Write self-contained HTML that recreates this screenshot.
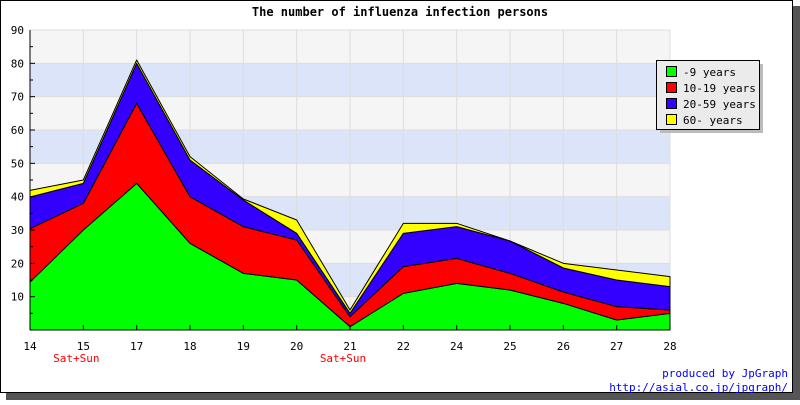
<!DOCTYPE html>
<html><head><meta charset="utf-8"><style>
body{margin:0;background:#fff}
svg text{font-family:"DejaVu Sans Mono","Liberation Mono",monospace}
</style></head><body>
<svg id="c" width="800" height="400" xmlns="http://www.w3.org/2000/svg">
<rect x="6" y="6" width="794" height="394" fill="#555"/>
<rect x="0.5" y="0.5" width="792" height="392" fill="#fff" stroke="#000"/>
<text x="400" y="16" text-anchor="middle" font-size="12" font-weight="bold">The number of influenza infection persons</text>
<g id="bands"></g><g id="grid"></g><g id="areas"></g><g id="axes"></g>
<g>
<rect x="660" y="64" width="103" height="69" fill="#bbb"/>
<rect x="656.5" y="60.5" width="103" height="69" fill="#ebebeb" stroke="#000"/>
<g id="legend"></g>
</g>
<text x="788" y="377" text-anchor="end" font-size="11" fill="#00f">produced by JpGraph</text>
<text x="788" y="391" text-anchor="end" font-size="11" fill="#00f">http://asial.co.jp/jpgraph/</text>
</svg>
<script>
const categories=["14","15","17","18","19","20","21","22","24","25","26","27","28"];
const sublabels=["","Sat+Sun","","","","","Sat+Sun","","","","","",""];
const seriesNames=["-9 years","10-19 years","20-59 years","60- years"];
const kids=[14.4,30,44,26,17,15,1,11,14,12,8,3,5];
const teens=[16,8,24,14,14,12,3,8,7.5,5,3.4,4,1];
const adults=[9.5,6,12,11,8,2,1,10,9.5,9.7,7.2,8,7];
const seniors=[2,1,1,1,0.3,4,1,3,1,0,1.4,3,3];
const yTicks=[10,20,30,40,50,60,70,80,90];
const colors=["#00ff00","#ff0000","#3300ff","#ffff00"];
const X0=30,X1=670,Y0=330,Y1=30,YMAX=90;
const xs=i=>X0+i*(X1-X0)/(categories.length-1);
const ys=v=>Y0-v*(Y0-Y1)/YMAX;
const NS="http://www.w3.org/2000/svg";
function mk(t,a,p){const e=document.createElementNS(NS,t);for(const k in a)e.setAttribute(k,a[k]);p.appendChild(e);return e;}
const bands=document.getElementById('bands');
for(let v=0;v<YMAX;v+=10){
 const r=mk('rect',{x:X0,y:ys(v+10),width:X1-X0,height:ys(v)-ys(v+10),fill:(v/10)%2==1?'#dce4fa':'#f5f5f5'},bands);
 
 
}
const grid=document.getElementById('grid');
yTicks.forEach(v=>{const l=mk('line',{x1:X0,x2:X1,y1:ys(v),y2:ys(v),stroke:'#ddd'},grid);
 
 });
categories.forEach((c,i)=>{const l=mk('line',{x1:xs(i),x2:xs(i),y1:Y1,y2:Y0,stroke:'#ddd'},grid);
 
 });
const series=[kids,teens,adults,seniors];
const areas=document.getElementById('areas');
let base=categories.map(()=>0);
const tops=[];
series.forEach(s=>{const t=base.map((b,i)=>b+s[i]);tops.push({b:base,t});base=t;});
tops.forEach((o,k)=>{
 let d=o.t.map((v,i)=>(i?'L':'M')+xs(i)+' '+ys(v)).join(' ');
 for(let i=o.b.length-1;i>=0;i--)d+=' L'+xs(i)+' '+ys(o.b[i]);
 const p=mk('path',{d:d+'Z',fill:colors[k],stroke:'#000','stroke-width':1,'stroke-linejoin':'round'},areas);
 
 
});
const ax=document.getElementById('axes');
mk('line',{x1:X0,x2:X0,y1:Y1,y2:Y0,stroke:'#000'},ax);
mk('line',{x1:X0,x2:X1,y1:Y0,y2:Y0,stroke:'#000'},ax);
for(let v=5;v<YMAX;v+=5){mk('line',{x1:X0,x2:X0+(v%10?3:5),y1:ys(v),y2:ys(v),stroke:'#000'},ax);}
yTicks.forEach(v=>{const t=mk('text',{x:X0-6,y:ys(v)+4,'text-anchor':'end','font-size':11},ax);t.textContent=v;
 
 });
categories.forEach((c,i)=>{
 mk('line',{x1:xs(i),x2:xs(i),y1:Y0,y2:Y0-5,stroke:'#000'},ax);
 const t=mk('text',{x:xs(i),y:Y0+20,'text-anchor':'middle','font-size':11},ax);t.textContent=c;
 
 
 if(sublabels[i]){const s=mk('text',{x:xs(i)-7,y:Y0+32,'text-anchor':'middle','font-size':11,fill:'#f00'},ax);s.textContent=sublabels[i];
  
  }
});
const lg=document.getElementById('legend');
seriesNames.forEach((n,k)=>{
 const y=66+k*16;
 mk('rect',{x:666.5,y:y+0.5,width:10,height:10,fill:colors[k],stroke:'#000'},lg);
 const t=mk('text',{x:683,y:y+10,'font-size':11},lg);t.textContent=n;
 
 
});
</script>
</body></html>
